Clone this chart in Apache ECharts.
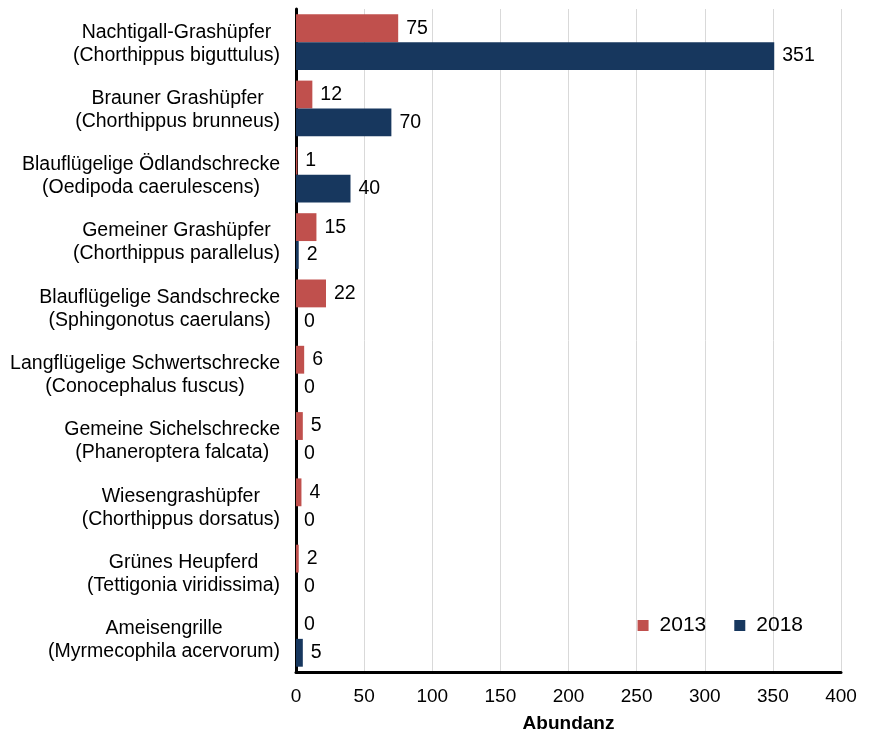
<!DOCTYPE html>
<html>
<head>
<meta charset="utf-8">
<script src="https://cdn.jsdelivr.net/npm/echarts@6/dist/echarts.min.js"></script>
<style>
  html, body { margin: 0; padding: 0; background: #fff; }
  #chart { width: 871px; height: 731px; }
</style>
</head>
<body>
<div id="chart"></div>
<script>
// Arten (oben nach unten)
var species = [
    'Nachtigall-Grashüpfer\n(Chorthippus biguttulus)',
    'Brauner Grashüpfer\n(Chorthippus brunneus)',
    'Blauflügelige Ödlandschrecke\n(Oedipoda caerulescens)',
    'Gemeiner Grashüpfer\n(Chorthippus parallelus)',
    'Blauflügelige Sandschrecke\n(Sphingonotus caerulans)',
    'Langflügelige Schwertschrecke\n(Conocephalus fuscus)',
    'Gemeine Sichelschrecke\n(Phaneroptera falcata)',
    'Wiesengrashüpfer\n(Chorthippus dorsatus)',
    'Grünes Heupferd\n(Tettigonia viridissima)',
    'Ameisengrille\n(Myrmecophila acervorum)'
];
var years = ['2013', '2018'];
var values2013 = [75, 12, 1, 15, 22, 6, 5, 4, 2, 0];
var values2018 = [351, 70, 40, 2, 0, 0, 0, 0, 0, 5];

var chart = echarts.init(document.getElementById('chart'));
var font = 'Liberation Sans, Arial, sans-serif';

var barLabel = {
    show: true,
    position: 'right',
    distance: 8,
    fontSize: 19.5,
    fontFamily: font,
    color: '#000',
    padding: [3, 0, 0, 0]
};

chart.setOption({
    animation: false,
    textStyle: { fontFamily: font },
    color: ['#C0504D', '#17375E'],
    grid: { left: 296, right: 30, top: 9, bottom: 59, outerBoundsMode: 'none' },
    legend: {
        data: years,
        right: 68,
        top: 615,
        padding: 0,
        icon: 'rect',
        itemWidth: 11,
        itemHeight: 11,
        itemGap: 28,
        textStyle: { fontSize: 21, color: '#000', fontFamily: font, padding: [0, 0, 0, 6] }
    },
    xAxis: {
        type: 'value',
        min: 0,
        max: 400,
        interval: 50,
        name: 'Abundanz',
        nameLocation: 'middle',
        nameGap: 42,
        nameTextStyle: { fontSize: 19, fontWeight: 'bold', color: '#000', fontFamily: font },
        axisLine: { show: true, lineStyle: { color: '#000', width: 3 } },
        axisTick: { show: false },
        axisLabel: { fontSize: 19, color: '#000', margin: 15, fontFamily: font },
        splitLine: { show: true, lineStyle: { color: '#d9d9d9', width: 1 } }
    },
    yAxis: {
        type: 'category',
        data: species,
        inverse: true,
        axisLine: { show: true, lineStyle: { color: '#000', width: 3 } },
        axisTick: { show: false },
        axisLabel: {
            margin: 16,
            align: 'right',
            padding: [3, 0, 0, 0],
            formatter: function (v) {
                return v.split('\n').map(function (s) { return '{c|' + s + '}'; }).join('\n');
            },
            rich: {
                c: { fontSize: 19.5, lineHeight: 23, color: '#000', align: 'center', fontFamily: font }
            }
        }
    },
    series: [
        {
            name: years[0],
            type: 'bar',
            data: values2013,
            barGap: '0%',
            barCategoryGap: '16%',
            label: barLabel
        },
        {
            name: years[1],
            type: 'bar',
            data: values2018,
            barGap: '0%',
            barCategoryGap: '16%',
            label: barLabel
        }
    ]
});
</script>
</body>
</html>
